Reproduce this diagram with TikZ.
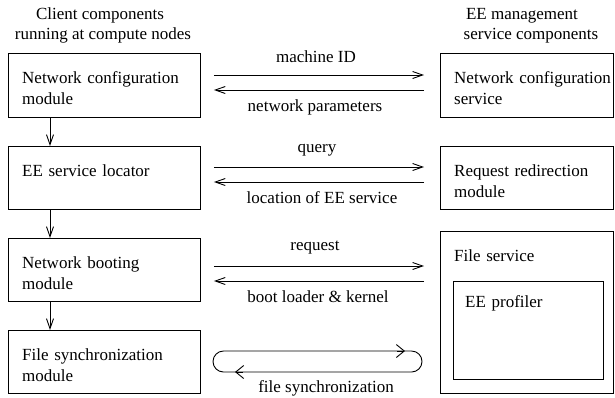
\documentclass[tikz,border=0pt]{standalone}
\usepackage{fontspec}
\setmainfont{Liberation Serif}
\usetikzlibrary{arrows.meta,calc}
\begin{document}
\begin{tikzpicture}[x=1bp,y=-1bp,
  box/.style={draw, line width=0.9bp, inner sep=0pt, anchor=north west},
  txt/.style={inner sep=0pt, anchor=base west, align=left, text width=170bp,
              font=\fontsize{17bp}{21bp}\selectfont},
  lbl/.style={inner sep=0pt, anchor=base, font=\fontsize{17bp}{21bp}\selectfont},
  arr/.style={line width=0.9bp, -{Straight Barb[length=10bp,width=7bp]}},
  looparr/.style={line width=0.9bp, -{Straight Barb[length=8bp,width=13bp]}},
  ]
\useasboundingbox (0,0) rectangle (615,397);

% column headings
\node[lbl] (hl1) at (100,19) {Client components};
\node[lbl] (hl2) at (103,39) {running at compute nodes};
\node[lbl] (hr1) at (522,19) {EE management};
\node[lbl] (hr2) at (531,39) {service components};

% client components
\node[box, minimum width=192bp, minimum height=64bp] (ncm) at (8,53) {};
\node[box, minimum width=192bp, minimum height=63bp] (esl) at (8,146) {};
\node[box, minimum width=192bp, minimum height=63bp] (nbm) at (8,238) {};
\node[box, minimum width=192bp, minimum height=63bp] (fsm) at (8,330) {};
\node[txt] (ncm-t) at ($(ncm.north west)+(14,30)$) {Network configuration\\module};
\node[txt] (esl-t) at ($(esl.north west)+(14,30)$) {EE service locator};
\node[txt] (nbm-t) at ($(nbm.north west)+(14,30)$) {Network booting\\module};
\node[txt] (fsm-t) at ($(fsm.north west)+(14,30)$) {File synchronization\\module};

% management service components
\node[box, minimum width=173bp, minimum height=64bp] (ncs) at (440,53) {};
\node[box, minimum width=173bp, minimum height=63bp] (rrm) at (440,146) {};
\node[box, minimum width=173bp, minimum height=162bp] (fsv) at (440,231) {};
\node[box, minimum width=150bp, minimum height=98bp] (eep) at (453,281) {};
\node[txt] (ncs-t) at ($(ncs.north west)+(14,30)$) {Network configuration\\service};
\node[txt] (rrm-t) at ($(rrm.north west)+(14,30)$) {Request redirection\\module};
\node[txt] (fsv-t) at ($(fsv.north west)+(14,30)$) {File service};
\node[txt] (eep-t) at ($(eep.north west)+(12,26)$) {EE profiler};

% flow between client components
\draw[arr] ($(ncm.south west)+(42,0)$) -- ($(esl.north west)+(42,0)$);
\draw[arr] ($(esl.south west)+(42,0)$) -- ($(nbm.north west)+(42,0)$);
\draw[arr] ($(nbm.south west)+(42,0)$) -- ($(fsm.north west)+(42,0)$);

% exchanges with the services
\draw[arr] ($(ncm.north east)+(13,22)$) -- ($(ncs.north west)+(-16,22)$);
\draw[arr] ($(ncs.north west)+(-16,37)$) -- ($(ncm.north east)+(13,37)$);
\node[lbl] (l-mid) at (316,62.5) {machine ID};
\node[lbl] (l-np)  at (315,111) {network parameters};

\draw[arr] ($(esl.north east)+(13,21)$) -- ($(rrm.north west)+(-16,21)$);
\draw[arr] ($(rrm.north west)+(-16,36)$) -- ($(esl.north east)+(13,36)$);
\node[lbl] (l-q)  at (317,152) {query};
\node[lbl] (l-loc) at (322,203.5) {location of EE service};

\draw[arr] ($(nbm.north east)+(13,28)$) -- ($(fsv.north west)+(-16,35)$);
\draw[arr] ($(fsv.north west)+(-16,50)$) -- ($(nbm.north east)+(13,43)$);
\node[lbl] (l-req) at (315,250) {request};
\node[lbl] (l-bl)  at (318,302.5) {boot loader \& kernel};

% file synchronization loop
\coordinate (lp1) at (213,351);
\coordinate (lp2) at (422,372);
\draw[line width=0.9bp, rounded corners=10.5bp] (lp1) rectangle (lp2);
\coordinate (tipA) at (405,351);
\coordinate (tipB) at (235,372);
\draw[looparr] ($(tipA)+(-8,0)$) -- (tipA);
\draw[looparr] ($(tipB)+(8,0)$) -- (tipB);
\node[lbl] (l-fs) at (326,392) {file synchronization};
\end{tikzpicture}
\end{document}
